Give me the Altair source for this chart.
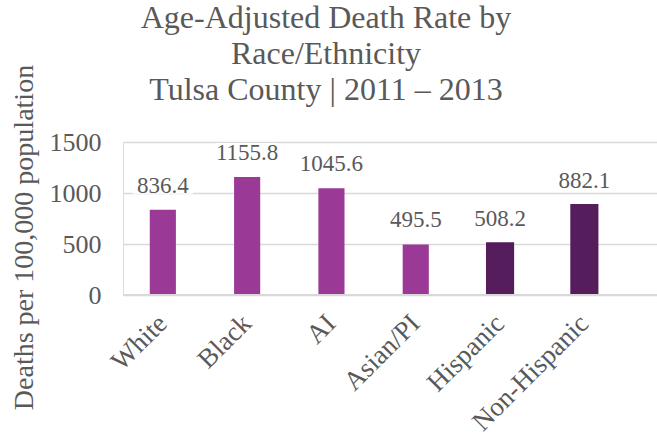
import altair as alt
import pandas as pd

groups = ["White", "Black", "AI", "Asian/PI", "Hispanic", "Non-Hispanic"]
rates = [836.4, 1155.8, 1045.6, 495.5, 508.2, 882.1]
kind = ["Race", "Race", "Race", "Race", "Ethnicity", "Ethnicity"]

df = pd.DataFrame({"group": groups, "rate": rates, "kind": kind})
df["label"] = df["rate"].map(lambda v: f"{v:.1f}")

FONT = "Liberation Serif"
GRAY = "#595959"
GRID = "#d9d9d9"

x_enc = alt.X(
    "group:N",
    sort=groups,
    scale=alt.Scale(paddingInner=0.69, paddingOuter=0.512, align=0.31),
    axis=alt.Axis(
        title=None, labelAngle=-45, labelAlign="right", labelBaseline="middle",
        labelFont=FONT, labelFontSize=27, labelColor=GRAY, labelPadding=24,
        ticks=False, domain=False, grid=False,
    ),
)
y_enc = alt.Y(
    "rate:Q",
    scale=alt.Scale(domain=[0, 1500]),
    axis=alt.Axis(
        title="Deaths per 100,000 population", values=[0, 500, 1000, 1500], format="d",
        titleFont=FONT, titleFontSize=28, titleFontWeight="normal", titleColor=GRAY,
        titleAngle=-90, titleX=-99, titleY=95, titleAlign="center",
        titleBaseline="middle",
        labelFont=FONT, labelFontSize=26, labelColor=GRAY, labelPadding=22,
        ticks=False, domain=False, grid=True, gridColor=GRID, gridWidth=1.5,
    ),
)

base = alt.Chart(df)

bars = base.mark_bar(strokeWidth=2).encode(
    x=x_enc,
    y=y_enc,
    color=alt.Color("kind:N", scale=alt.Scale(domain=["Race", "Ethnicity"],
                                              range=["#9b3a96", "#561d5c"]), legend=None),
    stroke=alt.Stroke("kind:N", scale=alt.Scale(domain=["Race", "Ethnicity"],
                                                range=["transparent", "#561d5c"]), legend=None),
)

# white backing behind the value labels so gridlines break around them
label_bg = base.mark_point(
    shape="M-3,-0.9H3V0.9H-3Z", size=400, filled=True, color="white", opacity=1,
    yOffset=-25,
).encode(x=x_enc, y=y_enc)

labels = base.mark_text(
    font=FONT, fontSize=23, color=GRAY, baseline="alphabetic", dy=-17,
).encode(x=x_enc, y=y_enc, text="label:N")

# baseline at zero, drawn over the bars
zero = alt.Chart(pd.DataFrame({"rate": [0]})).mark_rule(color=GRID, strokeWidth=2).encode(
    y=y_enc
)

chart = (
    alt.layer(bars, zero, label_bg, labels)
    .properties(
        width=534,
        height=153,
        autosize=alt.AutoSizeParams(type="none"),
        padding={"left": 123, "top": 142, "right": 0, "bottom": 142},
        title=alt.TitleParams(
            ["Age-Adjusted Death Rate by", "Race/Ethnicity", "Tulsa County | 2011 \u2013 2013"],
            font=FONT, fontSize=32, fontWeight="normal", color=GRAY,
            anchor="middle", lineHeight=36, dx=-64, dy=73, offset=30,
        ),
    )
    .configure_view(strokeWidth=0, stroke="transparent")
    .configure(background="white")
)

chart.save("out.html", embed_options={"renderer": "svg", "actions": False})
